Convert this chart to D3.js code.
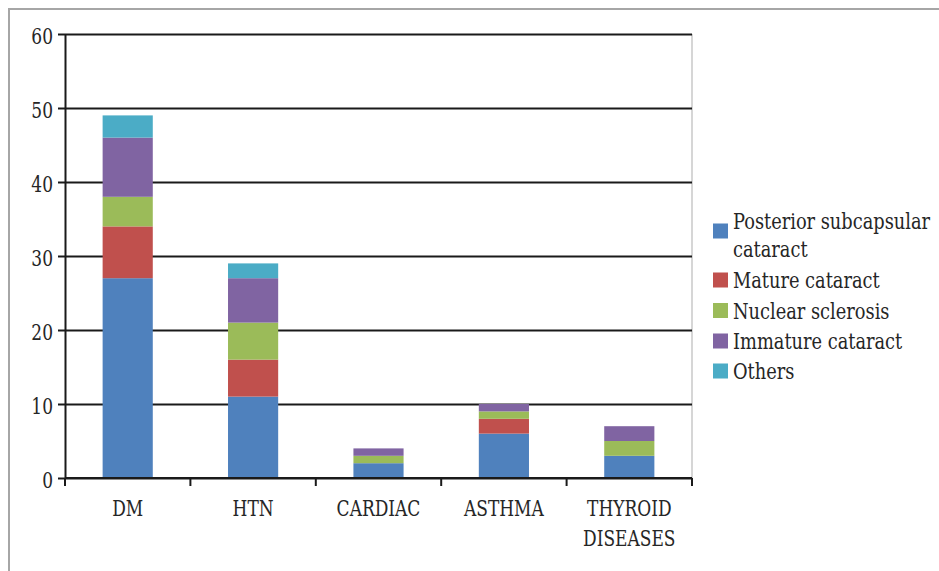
<!DOCTYPE html>
<html>
<head>
<meta charset="utf-8">
<script src="https://cdn.jsdelivr.net/npm/d3@7"></script>
<style>
  html, body { margin: 0; padding: 0; background: #fff; }
  svg { display: block; }
  text { font-family: "DejaVu Serif Condensed", "DejaVu Serif", serif; fill: #262626; }
</style>
</head>
<body>
<svg id="chart" width="939" height="571"></svg>
<script>
// Comorbidity categories along the x axis
const categories = ["DM", "HTN", "CARDIAC", "ASTHMA", "THYROID DISEASES"];

// Cataract type counts per category (stacked bottom to top)
const posteriorSubcapsular = [27, 11, 2, 6, 3];
const matureCataract       = [7, 5, 0, 2, 0];
const nuclearSclerosis     = [4, 5, 1, 1, 2];
const immatureCataract     = [8, 6, 1, 1, 2];
const others               = [3, 2, 0, 0, 0];

const seriesNames = ["Posterior subcapsular cataract", "Mature cataract", "Nuclear sclerosis", "Immature cataract", "Others"];
const seriesColors = ["#4F81BD", "#C0504D", "#9BBB59", "#8064A2", "#4BACC6"];
const yTicks = [0, 10, 20, 30, 40, 50, 60];

const seriesValues = [posteriorSubcapsular, matureCataract, nuclearSclerosis, immatureCataract, others];
const rows = categories.map((c, i) => {
  const r = { category: c };
  seriesNames.forEach((s, j) => { r[s] = seriesValues[j][i]; });
  return r;
});

const FONT_SIZE = 22;
// Narrow, tall serif lettering: place text at (x, y) and squeeze it horizontally
function placeText(sel, x, y, sx) {
  sel.attr("x", 0).attr("y", 0)
     .attr("font-size", FONT_SIZE)
     .attr("transform", `translate(${x},${y}) scale(${sx},1)`);
}

const svg = d3.select("#chart");

// Outer frame
svg.append("rect")
  .attr("x", 9).attr("y", 9).attr("width", 960).attr("height", 600)
  .attr("fill", "none").attr("stroke", "#a6a6a6").attr("stroke-width", 2);

const plot = { left: 65, right: 692, top: 34, bottom: 478 };

const x = d3.scaleBand().domain(categories).range([plot.left, plot.right]).paddingInner(0.6).paddingOuter(0.3);
const xTickScale = d3.scaleBand().domain(categories).range([plot.left, plot.right]);
const y = d3.scaleLinear().domain([0, 60]).range([plot.bottom, plot.top]);

// Right edge of plot area
svg.append("line")
  .attr("x1", plot.right).attr("x2", plot.right)
  .attr("y1", plot.top).attr("y2", plot.bottom)
  .attr("stroke", "#c8c8c8").attr("stroke-width", 1.5);

// Horizontal gridlines + y axis
const yAxis = svg.append("g")
  .attr("transform", `translate(${plot.left},0)`)
  .call(d3.axisLeft(y).tickValues(yTicks).tickSize(7).tickPadding(5).tickSizeOuter(0));
yAxis.select(".domain").attr("stroke", "#1a1a1a").attr("stroke-width", 2);
yAxis.selectAll(".tick line").attr("stroke", "#1a1a1a").attr("stroke-width", 2);
yAxis.selectAll(".tick text")
  .attr("dy", null)
  .attr("fill", "#262626")
  .style("font-family", '"DejaVu Serif Condensed", serif')
  .each(function() { placeText(d3.select(this), -12, 9.5, 0.86); });
yAxis.selectAll(".tick")
  .append("line")
  .attr("x1", 0).attr("x2", plot.right - plot.left)
  .attr("stroke", "#1a1a1a").attr("stroke-width", 2);

// Stacked bars
const stacked = d3.stack().keys(seriesNames)(rows);

svg.append("g").selectAll("g")
  .data(stacked)
  .join("g")
  .attr("fill", (d, i) => seriesColors[i])
  .selectAll("rect")
  .data(d => d.filter(p => p[1] - p[0] > 0))
  .join("rect")
  .attr("x", d => x(d.data.category))
  .attr("width", x.bandwidth())
  .attr("y", d => y(d[1]))
  .attr("height", d => y(d[0]) - y(d[1]));

// x axis with tick marks at category boundaries
const xAxisG = svg.append("g").attr("transform", `translate(0,${plot.bottom})`);
xAxisG.append("line")
  .attr("x1", plot.left).attr("x2", plot.right)
  .attr("stroke", "#1a1a1a").attr("stroke-width", 2);
const boundaries = categories.map(c => xTickScale(c)).concat([plot.right]);
xAxisG.selectAll("line.tk")
  .data(boundaries)
  .join("line")
  .attr("class", "tk")
  .attr("x1", d => d).attr("x2", d => d)
  .attr("y1", 0).attr("y2", 8)
  .attr("stroke", "#1a1a1a").attr("stroke-width", 2);

categories.forEach(c => {
  const cx = xTickScale(c) + xTickScale.bandwidth() / 2;
  c.split(" ").forEach((w, k) => {
    xAxisG.append("text")
      .attr("text-anchor", "middle")
      .text(w)
      .call(placeText, cx, 38 + k * 30, 0.86);
  });
});

// Legend
const legendRows = [
  { lines: ["Posterior subcapsular", "cataract"], color: seriesColors[0], baseline: 229 },
  { lines: ["Mature cataract"], color: seriesColors[1], baseline: 288 },
  { lines: ["Nuclear sclerosis"], color: seriesColors[2], baseline: 318.5 },
  { lines: ["Immature cataract"], color: seriesColors[3], baseline: 349 },
  { lines: ["Others"], color: seriesColors[4], baseline: 379 }
];
const legend = svg.append("g");
legendRows.forEach(r => {
  const squareMid = r.lines.length > 1 ? r.baseline + 2 : r.baseline - 8;
  legend.append("rect")
    .attr("x", 713).attr("y", squareMid - 7.5).attr("width", 15).attr("height", 15)
    .attr("fill", r.color);
  r.lines.forEach((ln, k) => {
    legend.append("text").text(ln).call(placeText, 733, r.baseline + k * 27.5, 0.9);
  });
});
</script>
</body>
</html>
